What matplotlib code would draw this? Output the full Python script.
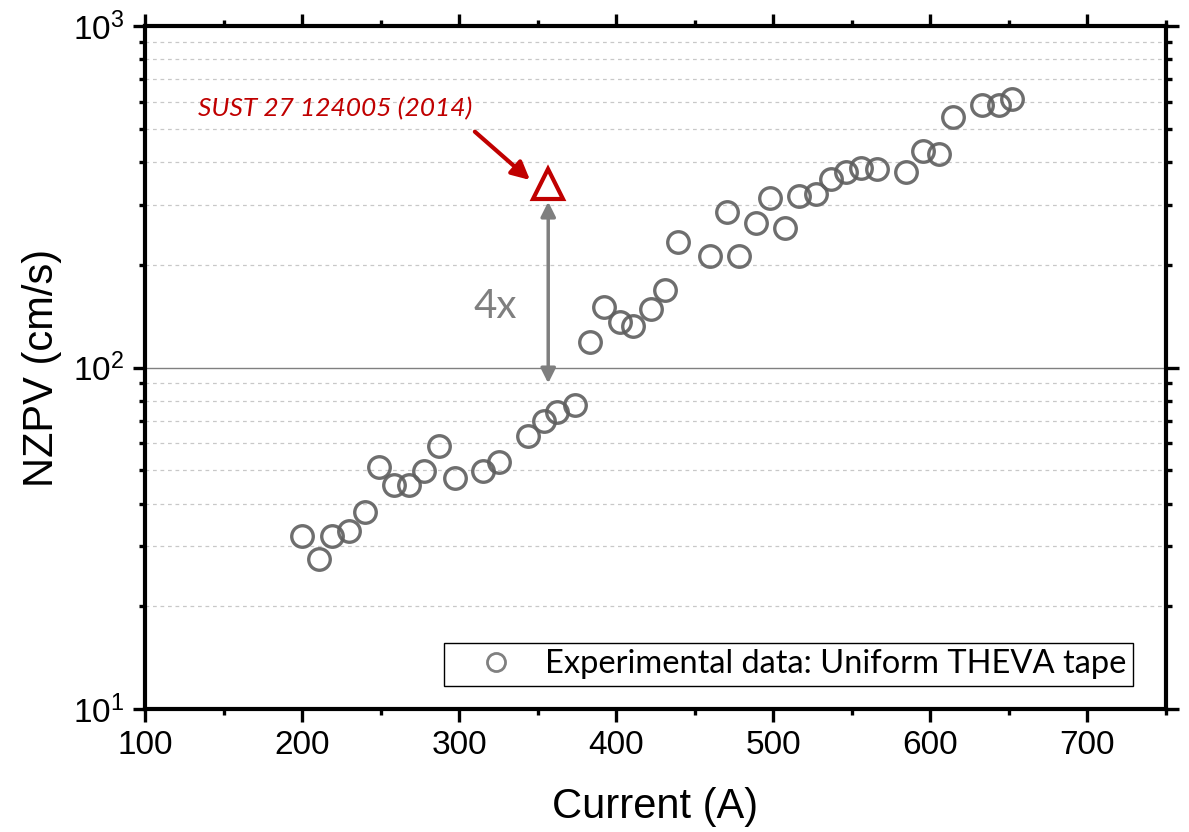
import matplotlib
matplotlib.use("Agg")
import matplotlib.pyplot as plt
from matplotlib.lines import Line2D
from matplotlib.ticker import LogLocator, MultipleLocator, LogFormatterMathtext, NullFormatter

# experimental data (uniform THEVA tape)
current = [199.7, 211.0, 219.2, 230.0, 239.8, 249.0, 258.7, 268.0, 277.4, 287.1,
           297.3, 315.1, 325.3, 343.8, 353.8, 362.4, 373.5, 383.3, 392.4, 402.2,
           410.7, 421.9, 431.2, 439.3, 459.4, 470.3, 478.3, 488.9, 497.6, 507.6,
           516.5, 527.3, 536.5, 546.2, 555.6, 566.0, 584.6, 595.0, 605.2, 614.5,
           633.0, 643.4, 652.1]
nzpv = [32.2, 27.6, 32.2, 33.2, 37.7, 51.1, 45.3, 45.4, 49.9, 58.9,
        47.6, 49.9, 53.0, 63.0, 69.8, 74.2, 77.6, 118.7, 150.3, 135.8,
        132.5, 148.9, 169.0, 233.1, 212.1, 285.4, 212.9, 264.9, 313.6, 256.7,
        318.5, 322.2, 356.5, 375.3, 384.0, 381.4, 373.7, 431.4, 421.9, 541.6,
        589.7, 589.7, 614.1]

# literature point
ref_current = [356.7]
ref_nzpv = [345.0]

plt.rcParams['font.family'] = ['Liberation Sans', 'DejaVu Sans']
plt.rcParams['mathtext.fontset'] = 'custom'
plt.rcParams['mathtext.rm'] = 'Liberation Sans'
plt.rcParams['mathtext.it'] = 'Liberation Sans:italic'

fig = plt.figure(figsize=(11.89, 8.32), dpi=100)
ax = fig.add_axes([145 / 1189, 1 - 709 / 832, (1166 - 145) / 1189, (709 - 26.4) / 832])

ax.set_yscale('log')
ax.set_xlim(100, 750)
ax.set_ylim(10, 1000)

# grid
ax.yaxis.grid(True, which='minor', ls=(0, (3, 3)), color='#c8c8c8', lw=0.9)
ax.yaxis.grid(True, which='major', ls='-', color='#808080', lw=1.0)
ax.set_axisbelow(True)

ax.plot(current, nzpv, ls='none', marker='o', ms=15.5, mfc='none',
        mec='#5e5e5e', mew=2.4, alpha=0.9)
ax.plot(ref_current, ref_nzpv, ls='none', marker='^', ms=21, mfc='none',
        mec='#c00000', mew=3)

# 4x double arrow
ax.annotate('', xy=(356.7, 90.0), xytext=(356.7, 306.4),
            arrowprops=dict(arrowstyle='<|-|>', color='#7f7f7f', lw=2.5,
                            mutation_scale=22, shrinkA=0, shrinkB=0))
ax.text(322.8, 150.9, '4x', fontsize=29, color='#7f7f7f', family='Lato',
        ha='center', va='center')

# reference annotation
ax.annotate('', xy=(345.1, 354.8), xytext=(310.0, 491.5),
            arrowprops=dict(arrowstyle='-|>', color='#c00000', lw=3,
                            mutation_scale=27, shrinkA=0, shrinkB=0))
ax.text(220.9, 573, 'SUST 27 124005 (2014)', fontsize=19, color='#c00000',
        family='Lato', style='italic', ha='center', va='center')

# ticks
ax.xaxis.set_major_locator(MultipleLocator(100))
ax.xaxis.set_minor_locator(MultipleLocator(50))
ax.yaxis.set_major_locator(LogLocator(base=10))
ax.yaxis.set_minor_locator(LogLocator(base=10, subs=range(2, 10)))
ax.yaxis.set_major_formatter(LogFormatterMathtext())
ax.yaxis.set_minor_formatter(NullFormatter())
ax.tick_params(which='both', direction='out', top=True, right=True, width=2.4)
ax.tick_params(which='major', length=9, labelsize=24, pad=6)
ax.tick_params(which='minor', length=4.5)
for s in ax.spines.values():
    s.set_linewidth(3)

ax.set_xlabel('Current (A)', fontsize=30, labelpad=19)
ax.set_ylabel('NZPV (cm/s)', fontsize=30, labelpad=8)

handle = Line2D([], [], ls='none', marker='o', ms=13, mfc='none', mec='#808080', mew=2)
leg = ax.legend([handle], ['Experimental data: Uniform THEVA tape'],
                loc='lower right', bbox_to_anchor=(0.9677, 0.0337),
                borderaxespad=0, fancybox=False, framealpha=1, edgecolor='black',
                prop={'family': 'Lato', 'size': 23.5}, handletextpad=0.1,
                borderpad=0.2, handlelength=2.8)
leg.get_frame().set_linewidth(1.0)

fig.savefig('out.png', dpi=100)
